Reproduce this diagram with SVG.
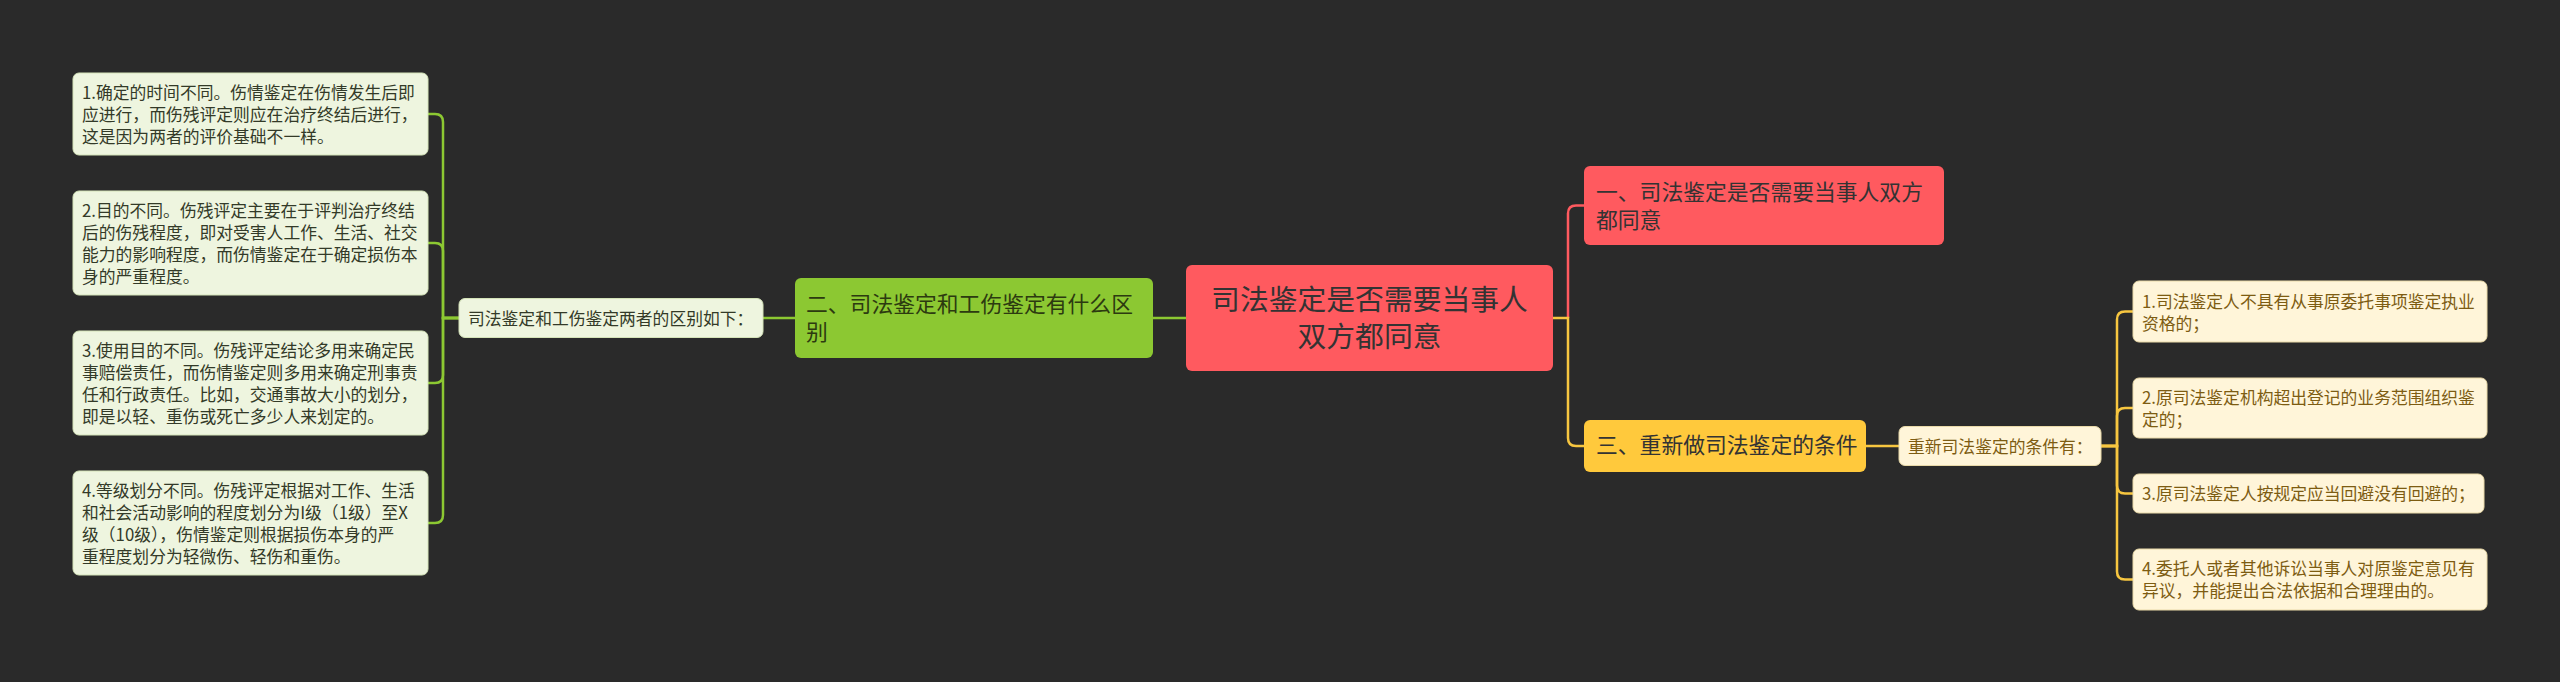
<svg xmlns="http://www.w3.org/2000/svg" width="2560" height="682" viewBox="0 0 2560 682">
<style>
text{font-family:"Noto Sans CJK SC","Noto Sans",sans-serif;}
.s{font-size:16.8px;}
.m{font-size:21.8px;}
.l{font-size:28.8px;}
.gbox{fill:#eef5df;stroke:#d4e3b8;stroke-width:1;}
.ybox{fill:#fff5d9;stroke:#e9d9a8;stroke-width:1;}
.gt{fill:#333a28;}
.yt{fill:#7d5c12;}
.dk{fill:#333333;}
.cg{fill:none;stroke:#8cc832;stroke-width:2.5;}
.cr{fill:none;stroke:#ff5a5f;stroke-width:2.5;}
.cy{fill:none;stroke:#f7c640;stroke-width:2.5;}
</style>
<rect x="0" y="0" width="2560" height="682" fill="#2a2a2a"/>
<g id="connectors">
<path class="cg" d="M459,318 H443 V122 Q443,114 435,114 H428"/>
<path class="cg" d="M459,318 H443 V251 Q443,243 435,243 H428"/>
<path class="cg" d="M459,318 H443 V375 Q443,383 435,383 H428"/>
<path class="cg" d="M459,318 H443 V515 Q443,523 435,523 H428"/>
<path class="cg" d="M763,318 H795"/>
<path class="cg" d="M1153,318 H1186"/>
<path class="cr" d="M1568,318 V213.5 Q1568,205.5 1576,205.5 H1584"/>
<path class="cy" d="M1553,318 H1568 V438 Q1568,446 1576,446 H1584"/>
<path class="cy" d="M1866,446 H1899"/>
<path class="cy" d="M2101,446 H2117 V319.5 Q2117,311.5 2125,311.5 H2133"/>
<path class="cy" d="M2101,446 H2117 V416 Q2117,408 2125,408 H2133"/>
<path class="cy" d="M2101,446 H2117 V485.5 Q2117,493.5 2125,493.5 H2133"/>
<path class="cy" d="M2101,446 H2117 V571.5 Q2117,579.5 2125,579.5 H2133"/>
</g>
<g id="center">
<rect x="1186" y="265" width="367" height="106" rx="6" fill="#ff5a5f"/>
<text class="l dk" x="1369.5" y="310" text-anchor="middle">司法鉴定是否需要当事人</text>
<text class="l dk" x="1369.5" y="347" text-anchor="middle">双方都同意</text>
</g>
<g id="n2">
<rect x="795" y="278" width="358" height="80" rx="6" fill="#8cc832"/>
<text class="m" fill="#2c3a10" x="806" y="312">二、司法鉴定和工伤鉴定有什么区</text>
<text class="m" fill="#2c3a10" x="806" y="340">别</text>
</g>
<g id="n2sub">
<rect class="gbox" x="459" y="298.5" width="304" height="39" rx="6"/>
<text class="s gt" x="468" y="324.5">司法鉴定和工伤鉴定两者的区别如下：</text>
</g>
<g id="n2a">
<rect class="gbox" x="73" y="73" width="355" height="82" rx="6"/>
<text class="s gt" x="82" y="98.5">1.确定的时间不同。伤情鉴定在伤情发生后即</text>
<text class="s gt" x="82" y="120.5">应进行，而伤残评定则应在治疗终结后进行，</text>
<text class="s gt" x="82" y="142.5">这是因为两者的评价基础不一样。</text>
</g>
<g id="n2b">
<rect class="gbox" x="73" y="191" width="355" height="104" rx="6"/>
<text class="s gt" x="82" y="217">2.目的不同。伤残评定主要在于评判治疗终结</text>
<text class="s gt" x="82" y="239">后的伤残程度，即对受害人工作、生活、社交</text>
<text class="s gt" x="82" y="261">能力的影响程度，而伤情鉴定在于确定损伤本</text>
<text class="s gt" x="82" y="283">身的严重程度。</text>
</g>
<g id="n2c">
<rect class="gbox" x="73" y="331" width="355" height="104" rx="6"/>
<text class="s gt" x="82" y="357">3.使用目的不同。伤残评定结论多用来确定民</text>
<text class="s gt" x="82" y="379">事赔偿责任，而伤情鉴定则多用来确定刑事责</text>
<text class="s gt" x="82" y="401">任和行政责任。比如，交通事故大小的划分，</text>
<text class="s gt" x="82" y="423">即是以轻、重伤或死亡多少人来划定的。</text>
</g>
<g id="n2d">
<rect class="gbox" x="73" y="471" width="355" height="104" rx="6"/>
<text class="s gt" x="82" y="497">4.等级划分不同。伤残评定根据对工作、生活</text>
<text class="s gt" x="82" y="519">和社会活动影响的程度划分为I级（1级）至X</text>
<text class="s gt" x="82" y="541">级（10级），伤情鉴定则根据损伤本身的严</text>
<text class="s gt" x="82" y="563">重程度划分为轻微伤、轻伤和重伤。</text>
</g>
<g id="n1">
<rect x="1584" y="166" width="360" height="79" rx="6" fill="#ff5a5f"/>
<text class="m dk" x="1596" y="199.5">一、司法鉴定是否需要当事人双方</text>
<text class="m dk" x="1596" y="227.5">都同意</text>
</g>
<g id="n3">
<rect x="1584" y="420" width="282" height="52" rx="6" fill="#ffc93c"/>
<text class="m dk" x="1596" y="453">三、重新做司法鉴定的条件</text>
</g>
<g id="n3sub">
<rect class="ybox" x="1899" y="426.5" width="202" height="39" rx="6"/>
<text class="s yt" x="1908" y="452.5">重新司法鉴定的条件有：</text>
</g>
<g id="n3a">
<rect class="ybox" x="2133" y="281" width="354" height="61" rx="6"/>
<text class="s yt" x="2142" y="307.5">1.司法鉴定人不具有从事原委托事项鉴定执业</text>
<text class="s yt" x="2142" y="329.5">资格的；</text>
</g>
<g id="n3b">
<rect class="ybox" x="2133" y="378" width="354" height="60" rx="6"/>
<text class="s yt" x="2142" y="404">2.原司法鉴定机构超出登记的业务范围组织鉴</text>
<text class="s yt" x="2142" y="426">定的；</text>
</g>
<g id="n3c">
<rect class="ybox" x="2133" y="474" width="351" height="39" rx="6"/>
<text class="s yt" x="2142" y="500">3.原司法鉴定人按规定应当回避没有回避的；</text>
</g>
<g id="n3d">
<rect class="ybox" x="2133" y="549" width="354" height="61" rx="6"/>
<text class="s yt" x="2142" y="575">4.委托人或者其他诉讼当事人对原鉴定意见有</text>
<text class="s yt" x="2142" y="597">异议，并能提出合法依据和合理理由的。</text>
</g>
</svg>
